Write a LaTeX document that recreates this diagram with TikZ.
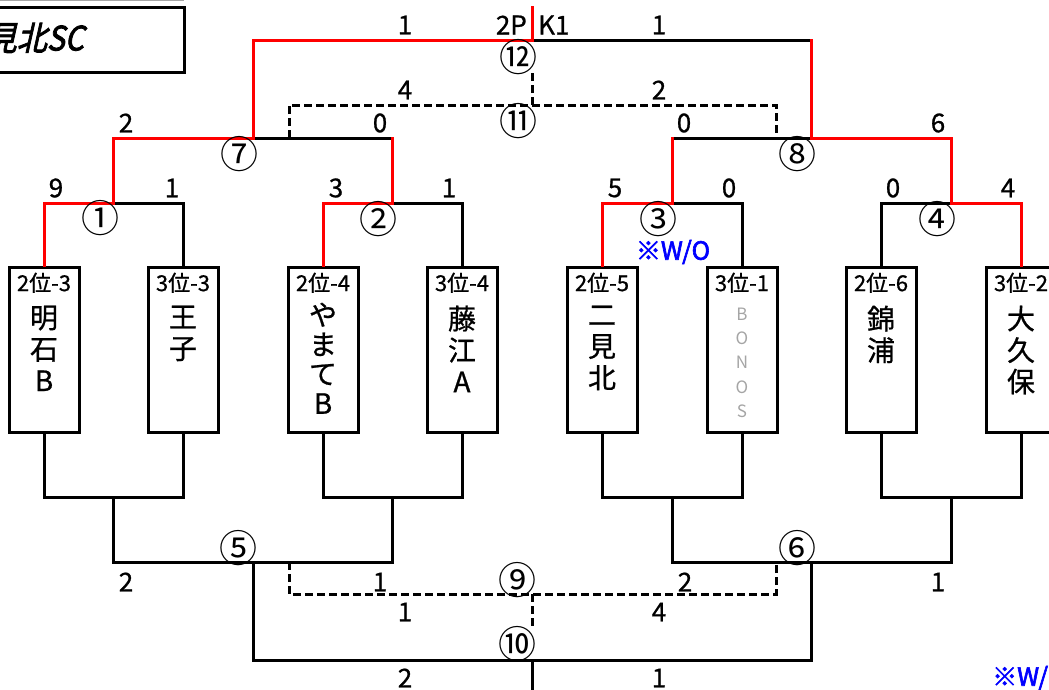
\documentclass[tikz,border=0pt]{standalone}
\usepackage{fontspec}
\usepackage{graphicx}
\usepackage{xcolor}
\usepackage{tikz}
\usetikzlibrary{positioning, calc}
\newfontfamily\jpfont[FakeBold=0.8]{Noto Sans CJK JP}
\newfontfamily\jplight{Noto Sans CJK JP}
\newfontfamily\jpbold[FakeBold=2.5]{Noto Sans CJK JP}
\newfontfamily\jptitle[FakeSlant=0.25, FakeBold=2.5]{Noto Sans CJK JP}
\definecolor{winred}{RGB}{255, 0, 0}
\definecolor{woblue}{RGB}{0, 0, 255}
\definecolor{bonosgray}{RGB}{165, 165, 165}
\tikzset{
    team/.style={rectangle, draw=black, line width=3pt, minimum width=70pt, minimum height=165pt, inner sep=0pt},
    rank/.style={font=\jpfont\fontsize{22}{22}\selectfont, inner sep=0pt},
    teamname/.style={font=\jpfont\fontsize{28}{31.5}\selectfont, align=center, inner sep=0pt},
    score/.style={font=\jpfont\fontsize{26}{26}\selectfont, inner sep=0pt},
    gamenum/.style={font=\jplight\fontsize{38}{38}\selectfont, inner sep=0pt},
    lost/.style={line width=3pt, black, line cap=rect},
    win/.style={line width=3pt, winred, line cap=rect},
    sub/.style={line width=3pt, black, dash pattern=on 8pt off 4pt},
    wo/.style={font=\jpbold\fontsize{25}{25}\selectfont, text=woblue, inner sep=0pt}
}

\begin{document}
\begin{tikzpicture}[x=1pt, y=-1pt]
    \useasboundingbox (0,0) rectangle (1049,689);
    \clip (0,0) rectangle (1049,689);

    % club box, top left
    \draw [bonosgray, line width=1pt] (0,0.5) -- (184,0.5);
    \node (titlebox) [rectangle, draw=black, line width=3pt, minimum width=200pt, minimum height=65pt] at (84,39.5) {};
    \node (club) [font=\jptitle\fontsize{30}{30}\selectfont, anchor=east, inner sep=0pt] at (84,38) {\scalebox{1}[1.12]{二見北SC}};

    % teams
    \node (t1) [team] at (44,349.5) {};
    \node (t2) [team] at (183,349.5) {};
    \node (t3) [team] at (323,349.5) {};
    \node (t4) [team] at (462,349.5) {};
    \node (t5) [team] at (602,349.5) {};
    \node (t6) [team] at (742,349.5) {};
    \node (t7) [team] at (881,349.5) {};
    \node (t8) [team] at (1021,349.5) {};

    \node (r1) [rank, below=7pt of t1.north] {2位-3};
    \node (r2) [rank, below=7pt of t2.north] {3位-3};
    \node (r3) [rank, below=7pt of t3.north] {2位-4};
    \node (r4) [rank, below=7pt of t4.north] {3位-4};
    \node (r5) [rank, below=7pt of t5.north] {2位-5};
    \node (r6) [rank, below=7pt of t6.north] {3位-1};
    \node (r7) [rank, below=7pt of t7.north] {2位-6};
    \node (r8) [rank, below=7pt of t8.north] {3位-2};

    \node (n1) [teamname, below=40pt of t1.north] {明\\石\\B};
    \node (n2) [teamname, below=40pt of t2.north] {王\\子};
    \node (n3) [teamname, below=37pt of t3.north, font=\jpfont\fontsize{28}{29.5}\selectfont] {や\\ま\\て\\B};
    \node (n4) [teamname, below=40pt of t4.north] {藤\\江\\A};
    \node (n5) [teamname, below=40pt of t5.north] {二\\見\\北};
    \node (n6) [teamname, below=42pt of t6.north, font=\jplight\fontsize{17}{24.3}\selectfont, text=bonosgray] {B\\O\\N\\O\\S};
    \node (n7) [teamname, below=40pt of t7.north] {錦\\浦};
    \node (n8) [teamname, below=40pt of t8.north] {大\\久\\保};

    % match points
    \coordinate (m1) at (113,203);
    \coordinate (m2) at (392,203);
    \coordinate (m3) at (672,203);
    \coordinate (m4) at (951,203);
    \coordinate (m7) at (253,138);
    \coordinate (m8) at (811,138);
    \coordinate (m11) at (532,105);
    \coordinate (m12) at (532,40);
    \coordinate (top) at (532,7);
    \coordinate (d7) at (289,138);
    \coordinate (d8) at (776,138);
    \coordinate (m11up) at (532,73);

    \coordinate (b1) at (113,497);
    \coordinate (b2) at (392,497);
    \coordinate (b3) at (672,497);
    \coordinate (b4) at (951,497);
    \coordinate (m5) at (253,562);
    \coordinate (m6) at (811,562);
    \coordinate (m9) at (532,594);
    \coordinate (m10) at (532,660);
    \coordinate (bottom) at (532,689);
    \coordinate (d5) at (289,562);
    \coordinate (d6) at (776,562);
    \coordinate (m9down) at (532,628);

    % upper bracket, losers first
    \draw [lost] (t2.north) |- (m1);
    \draw [lost] (t4.north) |- (m2);
    \draw [lost] (t6.north) |- (m3);
    \draw [lost] (t7.north) |- (m4);
    \draw [lost] (m2 |- m7) -- (m7);
    \draw [lost] (m3 |- m8) -- (m8);
    \draw [lost] (m8 |- m12) -- (m12);

    \draw [win] (t1.north) |- (m1);
    \draw [win] (t3.north) |- (m2);
    \draw [win] (t5.north) |- (m3);
    \draw [win] (t8.north) |- (m4);
    \draw [win] (m1) |- (m7);
    \draw [win] (m2) -- (m2 |- m7);
    \draw [win] (m3) -- (m3 |- m8);
    \draw [win] (m4) |- (m8);
    \draw [win] (m7) |- (m12);
    \draw [win] (m8) -- (m8 |- m12);
    \draw [win] (m12) -- (top);

    \draw [sub] (d7) |- (m11) -| (d8);
    \draw [sub] (m11) -- (m11up);

    % lower bracket
    \draw [lost] (t1.south) |- (b1);
    \draw [lost] (t2.south) |- (b1);
    \draw [lost] (t3.south) |- (b2);
    \draw [lost] (t4.south) |- (b2);
    \draw [lost] (t5.south) |- (b3);
    \draw [lost] (t6.south) |- (b3);
    \draw [lost] (t7.south) |- (b4);
    \draw [lost] (t8.south) |- (b4);
    \draw [lost] (b1) |- (m5);
    \draw [lost] (b2) |- (m5);
    \draw [lost] (b3) |- (m6);
    \draw [lost] (b4) |- (m6);
    \draw [lost] (m5) |- (m10);
    \draw [lost] (m6) |- (m10);
    \draw [lost] (m10) -- (bottom);

    \draw [sub] (d5) |- (m9) -| (d6);
    \draw [sub] (m9) -- (m9down);

    % game numbers
    \node (g1) [gamenum] at (100,218) {①};
    \node (g2) [gamenum] at (378,219) {②};
    \node (g3) [gamenum] at (658,219) {③};
    \node (g4) [gamenum] at (937,219) {④};
    \node (g7) [gamenum] at (239,154) {⑦};
    \node (g8) [gamenum] at (797,154) {⑧};
    \node (g11) [gamenum] at (518,121) {⑪};
    \node (g12) [gamenum] at (518,57) {⑫};
    \node (g5) [gamenum] at (238,548) {⑤};
    \node (g6) [gamenum] at (797,548) {⑥};
    \node (g9) [gamenum] at (517,580) {⑨};
    \node (g10) [gamenum] at (517,644) {⑩};

    % scores
    \node (s1a) [score] at (56,188) {9};
    \node (s1b) [score] at (172,188) {1};
    \node (s2a) [score] at (336,188) {3};
    \node (s2b) [score] at (449,188) {1};
    \node (s3a) [score] at (615,188) {5};
    \node (s3b) [score] at (729,188) {0};
    \node (s4a) [score] at (893,188) {0};
    \node (s4b) [score] at (1008,188) {4};
    \node (s7a) [score] at (126,123) {2};
    \node (s7b) [score] at (380,123) {0};
    \node (s8a) [score] at (684,123) {0};
    \node (s8b) [score] at (938,123) {6};
    \node (s11a) [score] at (405,90) {4};
    \node (s11b) [score] at (659,90) {2};
    \node (s12a) [score] at (405,25) {1};
    \node (s12b) [score] at (659,25) {1};
    \node (pk1) [score, anchor=east] at (527,25) {2P};
    \node (pk2) [score, anchor=west] at (538,25) {K1};

    \node (s5a) [score] at (126,582) {2};
    \node (s9a) [score] at (380,582) {1};
    \node (s9b) [score] at (685,582) {2};
    \node (s6b) [score] at (938,582) {1};
    \node (s10c) [score] at (405,612) {1};
    \node (s10d) [score] at (659,612) {4};
    \node (s10a) [score] at (405,678) {2};
    \node (s10b) [score] at (659,678) {1};

    % walkover notes
    \node (wo3) [wo] at (673,252) {※W/O};
    \node (wonote) [wo, anchor=west] at (992,678) {※W/O};
\end{tikzpicture}
\end{document}
